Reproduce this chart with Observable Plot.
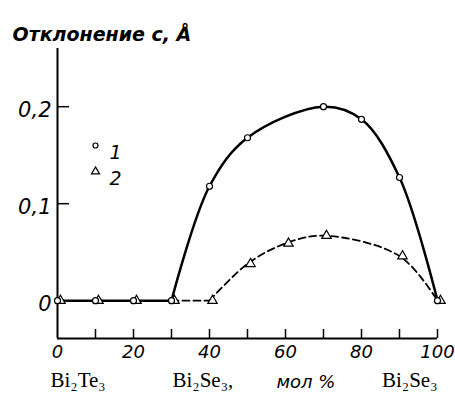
<!DOCTYPE html>
<html><head><meta charset="utf-8">
<script src="https://cdn.jsdelivr.net/npm/d3@7"></script>
<script src="https://cdn.jsdelivr.net/npm/@observablehq/plot@0.6"></script>
<style>body{margin:0;background:#fff}</style>
</head><body><div id="chart"></div>
<script>
// Series 1 (circles): lattice parameter c deviation, Å
const comp1 = [0, 10, 20, 30, 40, 50, 70, 80, 90, 100];
const dev1 = [0, 0, 0, 0, 0.118, 0.168, 0.2, 0.187, 0.127, 0];
// Series 2 (triangles)
const comp2 = [0, 10, 20, 30, 40, 50, 60, 70, 90, 100];
const dev2 = [0, 0, 0, 0, 0, 0.038, 0.059, 0.067, 0.046, 0];
const xTickLabels = [0, 20, 40, 60, 80, 100];
const xTickMarks = [10, 20, 30, 40, 50, 60, 70, 80, 90, 100];
const yTicks = [0, 0.1, 0.2];
const yTickLabels = ["0", "0,1", "0,2"];
const titleText = "Отклонение c, Å";
const legendLabels = ["1", "2"];
const leftLabel = "Bi₂Te₃";
const midLabel = "Bi₂Se₃,";
const unitLabel = "мол %";
const rightLabel = "Bi₂Se₃";

const s1 = comp1.map((x, i) => ({x, y: dev1[i]}));
const s2 = comp2.map((x, i) => ({x, y: dev2[i]}));
const s1flat = s1.filter(d => d.x <= 30);
const s1curve = s1.filter(d => d.x >= 30);
const s2flat = s2.filter(d => d.x >= 30 && d.x <= 40);
const s2curve = s2.filter(d => d.x >= 40);

const W = 455, H = 408, mL = 57, mR = 18, mT = 48, mB = 70;
const fw = W - mL - mR, fh = H - mT - mB;
const yDomain = [-0.039, 0.26];
const ital = {fontStyle: "italic", fontFamily: "DejaVu Sans"};
const serif = {fontFamily: "Liberation Serif", fontSize: 21};
const dash = {stroke: "black", strokeWidth: 1.8, strokeDasharray: "7,4"};
const solid = {stroke: "black", strokeWidth: 2.5};

const chart = Plot.plot({
  width: W, height: H,
  marginLeft: mL, marginRight: mR, marginTop: mT, marginBottom: mB,
  x: {domain: [0, 100], axis: null},
  y: {domain: yDomain, axis: null},
  style: {background: "white", color: "black", overflow: "visible", fontFamily: "DejaVu Sans"},
  marks: [
    Plot.ruleX([0], {stroke: "black", strokeWidth: 2}),
    Plot.ruleY([yDomain[0]], {stroke: "black", strokeWidth: 2}),
    Plot.tickY(yTicks.slice(1), {y: d => d, insetRight: fw - 12, strokeWidth: 1.5}),
    Plot.tickX(xTickMarks, {x: d => d, insetTop: fh - 9, strokeWidth: 1.5}),
    Plot.text(yTicks, {y: d => d, text: (d, i) => yTickLabels[i], frameAnchor: "left", textAnchor: "end", dx: -6, dy: 4, fontSize: 21, ...ital}),
    Plot.text(xTickLabels, {x: d => d, text: d => String(d), frameAnchor: "bottom", dy: 19, fontSize: 18, ...ital}),
    Plot.text([titleText], {frameAnchor: "top-left", textAnchor: "start", dx: -45, dy: -21, fontSize: 19, fontWeight: "bold", ...ital}),
    Plot.text([leftLabel], {frameAnchor: "bottom-left", textAnchor: "start", dx: -7, dy: 48, ...serif}),
    Plot.text([midLabel], {frameAnchor: "bottom-left", textAnchor: "start", dx: 115, dy: 48, ...serif}),
    Plot.text([unitLabel], {frameAnchor: "bottom-left", textAnchor: "start", dx: 219, dy: 49, fontSize: 18, ...ital}),
    Plot.text([rightLabel], {frameAnchor: "bottom-right", textAnchor: "end", dx: 0, dy: 48, ...serif}),
    Plot.line(s2flat, {x: "x", y: "y", ...dash}),
    Plot.line(s2curve, {x: "x", y: "y", curve: "catmull-rom", ...dash}),
    Plot.line(s1flat, {x: "x", y: "y", ...solid}),
    Plot.line(s1curve, {x: "x", y: "y", curve: "catmull-rom", ...solid}),
    Plot.dot(s2, {x: "x", y: "y", symbol: "triangle", r: 3.5, fill: "white", stroke: "black", strokeWidth: 1.2, dx: 3}),
    Plot.dot(s1, {x: "x", y: "y", symbol: "circle", r: 3, fill: "white", stroke: "black", strokeWidth: 1.2}),
    Plot.dot([legendLabels[0]], {frameAnchor: "top-left", dx: 38, dy: 97, symbol: "circle", r: 2.5, fill: "white", stroke: "black", strokeWidth: 1.2}),
    Plot.dot([legendLabels[1]], {frameAnchor: "top-left", dx: 38, dy: 123, symbol: "triangle", r: 3, fill: "white", stroke: "black", strokeWidth: 1.2}),
    Plot.text([legendLabels[0]], {frameAnchor: "top-left", textAnchor: "start", dx: 52, dy: 97, fontSize: 19, ...ital}),
    Plot.text([legendLabels[1]], {frameAnchor: "top-left", textAnchor: "start", dx: 52, dy: 123, fontSize: 19, ...ital})
  ]
});
document.getElementById("chart").appendChild(chart);
</script>
</body></html>
